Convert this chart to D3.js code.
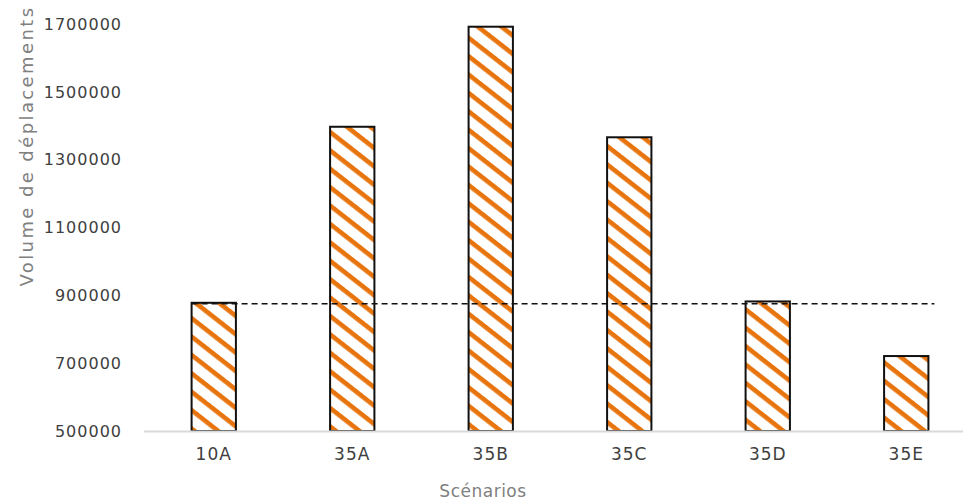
<!DOCTYPE html>
<html><head><meta charset="utf-8">
<script src="https://cdn.jsdelivr.net/npm/d3@7"></script>
<style>html,body{margin:0;padding:0;background:#fff;}svg{display:block;}</style>
</head><body>
<script>
const categories = ["10A","35A","35B","35C","35D","35E"];
const values = [878000,1397000,1692000,1366000,882000,721000];
const reference = 875000;
const yTicks = [500000,700000,900000,1100000,1300000,1500000,1700000];

const W = 963, H = 499;
const svg = d3.select("body").append("svg").attr("width", W).attr("height", H);
const font = "'DejaVu Sans', sans-serif";

const defs = svg.append("defs");
const P = 14.5;
const pat = defs.append("pattern").attr("id","stripes")
  .attr("patternUnits","userSpaceOnUse").attr("width",P).attr("height",P)
  .attr("patternTransform","rotate(38)");
pat.append("rect").attr("width",P).attr("height",P).attr("fill","#fff");
pat.append("rect").attr("y",0).attr("width",P).attr("height",4.6).attr("fill","#E8740E");

const x = d3.scaleBand().domain(categories).range([144.5, 975.5]).paddingInner(0.68).paddingOuter(0.34);
const y = d3.scaleLinear().domain([500000,1700000]).range([431,24]);

// y tick labels
svg.append("g").selectAll("text").data(yTicks).join("text")
  .attr("x",122).attr("y",d=>y(d)).attr("dy","0.36em").attr("text-anchor","end")
  .attr("font-family",font).attr("font-size",16).attr("letter-spacing",1)
  .attr("fill","#404040").text(d=>d);

// bars
svg.append("g").selectAll("rect").data(categories).join("rect")
  .attr("x",d=>x(d)).attr("width",x.bandwidth())
  .attr("y",(d,i)=>y(values[i])).attr("height",(d,i)=>y(500000)-y(values[i]))
  .attr("fill","url(#stripes)").attr("stroke","#111").attr("stroke-width",2);

// x axis line
svg.append("line").attr("x1",144).attr("x2",W).attr("y1",y(500000)+0.5).attr("y2",y(500000)+0.5)
  .attr("stroke","#d9d9d9").attr("stroke-width",2);

// dashed reference line
svg.append("line").attr("x1",x("10A")).attr("x2",x("35E")+x.bandwidth()+6)
  .attr("y1",y(reference)).attr("y2",y(reference))
  .attr("stroke","#111").attr("stroke-width",1.5).attr("stroke-dasharray","6,4");

// x labels
svg.append("g").selectAll("text").data(categories).join("text")
  .attr("x",d=>x(d)+x.bandwidth()/2).attr("y",460).attr("text-anchor","middle")
  .attr("font-family",font).attr("font-size",17).attr("letter-spacing",1)
  .attr("fill","#404040").text(d=>d);

// axis titles
svg.append("text").attr("x",483).attr("y",497).attr("text-anchor","middle")
  .attr("font-family",font).attr("font-size",17).attr("letter-spacing",0.5).attr("fill","#808080").text("Scénarios");
svg.append("text").attr("transform","translate(33,146) rotate(-90)").attr("text-anchor","middle")
  .attr("font-family",font).attr("font-size",18).attr("letter-spacing",2.4).attr("fill","#808080").text("Volume de déplacements");
</script>
</body></html>
